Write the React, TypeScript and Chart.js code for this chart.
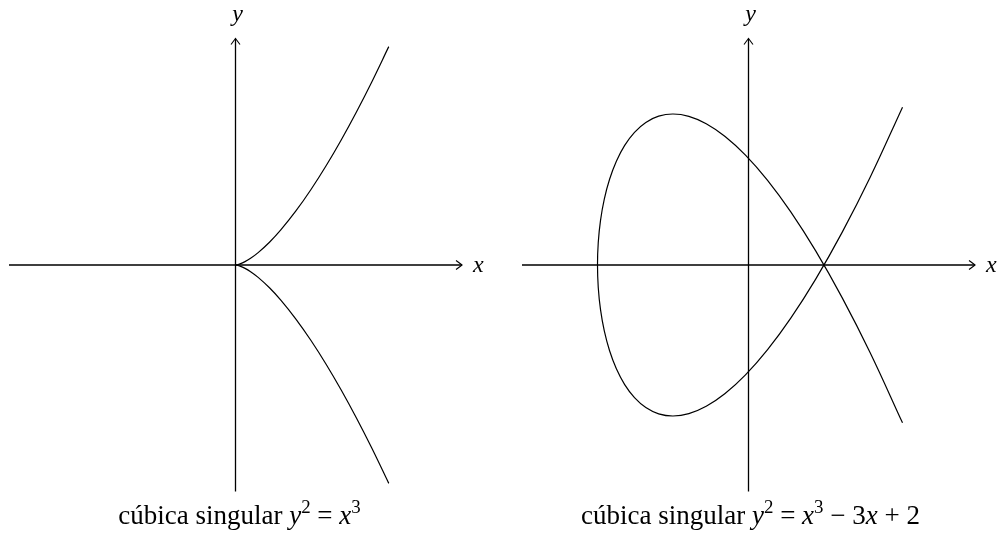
import React, { useEffect, useRef } from 'react';
import { Chart, registerables } from 'chart.js';

Chart.register(...registerables);

// Axis range (both panels, both axes)
const AXIS_MIN = -3;
const AXIS_MAX = 3;

// Left panel: cuspidal cubic y^2 = x^3
const cuspX = [0, 0.02, 0.06, 0.12, 0.2, 0.3, 0.45, 0.6, 0.8, 1.0, 1.2, 1.4, 1.6, 1.8, 2.03];
const cuspYUpper = [0, 0.0028, 0.0147, 0.0416, 0.0894, 0.1643, 0.3019, 0.4648, 0.7155, 1.0, 1.3145, 1.6565, 2.0239, 2.415, 2.8923];
const cuspYLower = [0, -0.0028, -0.0147, -0.0416, -0.0894, -0.1643, -0.3019, -0.4648, -0.7155, -1.0, -1.3145, -1.6565, -2.0239, -2.415, -2.8923];

// Right panel: nodal cubic y^2 = x^3 - 3x + 2 (points along the curve, in drawing order)
const nodeX = [
  2.04, 1.61, 1.24, 0.89, 0.56, 0.25, -0.04, -0.31, -0.56, -0.79, -1.0,
  -1.19, -1.36, -1.51, -1.64, -1.75, -1.84, -1.91, -1.96, -1.99, -2.0,
  -1.99, -1.96, -1.91, -1.84, -1.75, -1.64, -1.51, -1.36, -1.19, -1.0,
  -0.79, -0.56, -0.31, -0.04, 0.25, 0.56, 0.89, 1.24, 1.61, 2.04,
];
const nodeY = [
  -2.091, -1.159, -0.432, 0.187, 0.704, 1.125, 1.456, 1.703, 1.872, 1.969, 2.0,
  1.971, 1.888, 1.757, 1.584, 1.375, 1.136, 0.873, 0.592, 0.299, 0.0,
  -0.299, -0.592, -0.873, -1.136, -1.375, -1.584, -1.757, -1.888, -1.971, -2.0,
  -1.969, -1.872, -1.703, -1.456, -1.125, -0.704, -0.187, 0.432, 1.159, 2.091,
];

// Text
const xAxisLabel = 'x';
const yAxisLabel = 'y';
type Run = { t: string; it?: boolean; sup?: boolean };
const leftCaption: Run[] = [
  { t: 'cúbica singular ' }, { t: 'y', it: true }, { t: '2', sup: true },
  { t: ' = ' }, { t: 'x', it: true }, { t: '3', sup: true },
];
const rightCaption: Run[] = [
  { t: 'cúbica singular ' }, { t: 'y', it: true }, { t: '2', sup: true },
  { t: ' = ' }, { t: 'x', it: true }, { t: '3', sup: true },
  { t: ' − 3' }, { t: 'x', it: true }, { t: ' + 2' },
];

const FONT = '"Liberation Serif", "DejaVu Serif", serif';

function drawRuns(ctx: CanvasRenderingContext2D, runs: Run[], cx: number, baseline: number, size: number) {
  const fontFor = (r: Run) => `${r.it ? 'italic ' : ''}${r.sup ? size * 0.7 : size}px ${FONT}`;
  let total = 0;
  const widths: number[] = [];
  for (const r of runs) {
    ctx.font = fontFor(r);
    const w = ctx.measureText(r.t).width;
    widths.push(w);
    total += w;
  }
  let x = cx - total / 2;
  ctx.textAlign = 'left';
  ctx.textBaseline = 'alphabetic';
  runs.forEach((r, i) => {
    ctx.font = fontFor(r);
    ctx.fillText(r.t, x, r.sup ? baseline - size * 0.42 : baseline);
    x += widths[i];
  });
}

function arrowHead(ctx: CanvasRenderingContext2D, tx: number, ty: number, dir: 'right' | 'up') {
  ctx.save();
  ctx.translate(tx, ty);
  if (dir === 'up') ctx.rotate(-Math.PI / 2);
  ctx.beginPath();
  ctx.moveTo(-6, -4.5);
  ctx.quadraticCurveTo(-1.5, -1.2, 0, 0);
  ctx.quadraticCurveTo(-1.5, 1.2, -6, 4.5);
  ctx.stroke();
  ctx.restore();
}

const mathAxes = {
  id: 'mathAxes',
  beforeDatasetsDraw(chart: any) {
    const ctx: CanvasRenderingContext2D = chart.ctx;
    const xs = chart.scales.x;
    const ys = chart.scales.y;
    const x0 = xs.getPixelForValue(0);
    const y0 = ys.getPixelForValue(0);
    const xl = xs.getPixelForValue(AXIS_MIN);
    const xr = xs.getPixelForValue(AXIS_MAX);
    const yt = ys.getPixelForValue(AXIS_MAX);
    const yb = ys.getPixelForValue(AXIS_MIN);
    ctx.save();
    ctx.strokeStyle = '#000';
    ctx.lineWidth = 1.3;
    ctx.beginPath();
    ctx.moveTo(xl, y0);
    ctx.lineTo(xr, y0);
    ctx.moveTo(x0, yb);
    ctx.lineTo(x0, yt);
    ctx.stroke();
    ctx.lineWidth = 1.1;
    arrowHead(ctx, xr, y0, 'right');
    arrowHead(ctx, x0, yt, 'up');
    ctx.restore();
  },
  afterDraw(chart: any, _args: any, opts: any) {
    const ctx: CanvasRenderingContext2D = chart.ctx;
    const xs = chart.scales.x;
    const ys = chart.scales.y;
    const x0 = xs.getPixelForValue(0);
    const y0 = ys.getPixelForValue(0);
    const xr = xs.getPixelForValue(AXIS_MAX);
    const yt = ys.getPixelForValue(AXIS_MAX);
    const yb = ys.getPixelForValue(AXIS_MIN);
    ctx.save();
    ctx.fillStyle = '#000';
    ctx.font = `italic 24px ${FONT}`;
    ctx.textAlign = 'left';
    ctx.textBaseline = 'alphabetic';
    ctx.fillText(xAxisLabel, xr + 11, y0 + 7);
    ctx.textAlign = 'center';
    ctx.fillText(yAxisLabel, x0 + 2, yt - 18);
    drawRuns(ctx, opts.caption, x0 + opts.captionOffset, yb + 32.5, 27);
    ctx.restore();
  },
};

function makeConfig(datasets: any[], padding: any, caption: Run[], captionOffset: number): any {
  return {
    type: 'scatter',
    data: { datasets },
    options: {
      animation: false,
      responsive: true,
      maintainAspectRatio: false,
      layout: { padding },
      scales: {
        x: { type: 'linear', min: AXIS_MIN, max: AXIS_MAX, display: false },
        y: { type: 'linear', min: AXIS_MIN, max: AXIS_MAX, display: false },
      },
      plugins: {
        legend: { display: false },
        tooltip: { enabled: false },
        mathAxes: { caption, captionOffset },
      },
      elements: { point: { radius: 0, hoverRadius: 0 } },
    },
    plugins: [mathAxes],
  };
}

const lineStyle = { showLine: true, borderColor: '#000', borderWidth: 1.2, pointRadius: 0, tension: 0.4, fill: false };

function Panel({ left, config }: { left: number; config: () => any }) {
  const ref = useRef<HTMLCanvasElement | null>(null);
  useEffect(() => {
    if (!ref.current) return;
    const chart = new Chart(ref.current, config());
    return () => chart.destroy();
  }, []);
  return (
    <div style={{ position: 'absolute', left, top: 0, width: 499, height: 535 }}>
      <canvas ref={ref} />
    </div>
  );
}

export default function App() {
  const leftConfig = () =>
    makeConfig(
      [
        { ...lineStyle, data: cuspX.map((x, i) => ({ x, y: cuspYUpper[i] })) },
        { ...lineStyle, data: cuspX.map((x, i) => ({ x, y: cuspYLower[i] })) },
      ],
      { left: 9, right: 37, top: 38.5, bottom: 43.5 },
      leftCaption,
      4
    );
  const rightConfig = () =>
    makeConfig(
      [{ ...lineStyle, data: nodeX.map((x, i) => ({ x, y: nodeY[i] })) }],
      { left: 23, right: 23, top: 38.5, bottom: 43.5 },
      rightCaption,
      2
    );
  return (
    <div style={{ position: 'absolute', left: 0, top: 0, width: 998, height: 535, background: '#fff' }}>
      <Panel left={0} config={leftConfig} />
      <Panel left={499} config={rightConfig} />
    </div>
  );
}
